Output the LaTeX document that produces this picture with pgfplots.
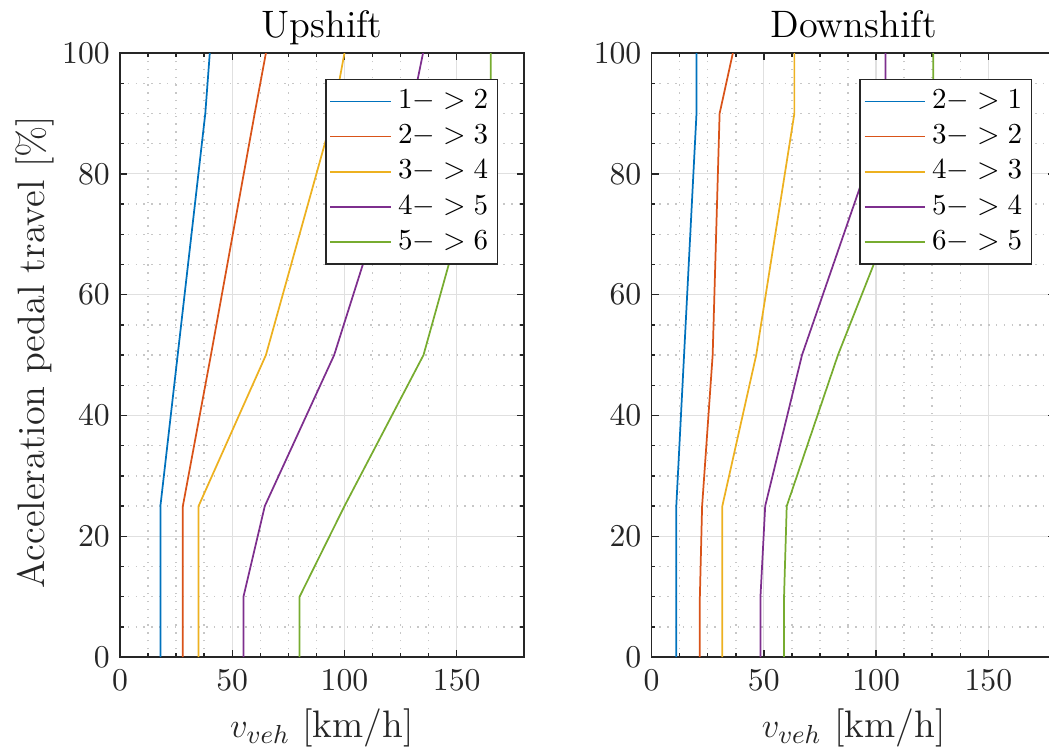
\documentclass[border=0pt]{standalone}
\usepackage{pgfplots}
\pgfplotsset{compat=1.18}
\definecolor{c1}{HTML}{0072BD}
\definecolor{c2}{HTML}{D95319}
\definecolor{c3}{HTML}{EDB120}
\definecolor{c4}{HTML}{7E2F8E}
\definecolor{c5}{HTML}{77AC30}
\definecolor{axgray}{gray}{0.15}
\pgfplotsset{
  gearaxis/.style={
    scale only axis, width=139.4pt, height=208.4pt,
    xmin=0, xmax=180, ymin=0, ymax=100,
    xtick={0,50,100,150}, ytick={0,20,40,60,80,100},
    minor x tick num=3, minor y tick num=3,
    grid=both,
    major grid style={line width=0.45pt, color=black!12},
    minor grid style={line width=0.5pt, color=black!22, dash pattern=on 0.5pt off 2.2pt},
    axis line style={color=axgray, line width=0.5pt},
    tick style={color=axgray, line width=0.5pt},
    major tick length=2.5pt, minor tick length=1.3pt,
    tick align=inside,
    ticklabel style={font=\fontsize{11.3}{13}\selectfont, text=axgray},
    xticklabel style={yshift=-1pt},
    label style={font=\fontsize{13.2}{16}\selectfont, text=axgray},
    xlabel style={at={(axis description cs:0.5,0)}, anchor=center, yshift=-24.5pt},
    ylabel style={at={(axis description cs:-0.21,0.505)}, anchor=center},
    every axis title shift=0pt,
    title style={font=\fontsize{13.2}{16}\selectfont, text=black,
      at={(axis description cs:0.5,1)}, anchor=base, yshift=5.5pt},
    xlabel={$v_{veh}$ [km/h]},
    legend style={anchor=north east, font=\fontsize{10}{12}\selectfont,
      draw=axgray, line width=0.5pt, fill=white, inner xsep=1.2pt, inner ysep=1.5pt,
      row sep=0.2pt, cells={anchor=west}},
    legend image code/.code={\draw[#1, line width=0.6pt] (0pt,0pt) -- (21pt,0pt);},
    every axis plot/.append style={line width=0.6pt, mark=none},
  }
}
\begin{document}
\begin{tikzpicture}
\begin{axis}[gearaxis, at={(0pt,0pt)}, anchor=south west,
  title={Upshift},
  ylabel={Acceleration pedal travel [\%]},
  legend style={at={(rel axis cs:0.936,0.957)}}]
\addplot[c1] coordinates {(18,0) (18,25) (38,90) (40,100)};
\addlegendentry{$1->2$}
\addplot[c2] coordinates {(28,0) (28,25) (40.5,50) (60,90) (65,100)};
\addlegendentry{$2->3$}
\addplot[c3] coordinates {(35,0) (35,25) (65,50) (95,90) (100,100)};
\addlegendentry{$3->4$}
\addplot[c4] coordinates {(55,0) (55,10) (64.5,25) (95.4,50) (129.5,90) (135,100)};
\addlegendentry{$4->5$}
\addplot[c5] coordinates {(80,0) (80,10) (100,25) (135.2,50) (165.2,90) (165.2,100)};
\addlegendentry{$5->6$}
\end{axis}
\begin{axis}[gearaxis, at={(183.4pt,0pt)}, anchor=south west,
  title={Downshift},
  legend style={at={(rel axis cs:0.942,0.957)}}]
\addplot[c1] coordinates {(11,0) (11,25) (20,90) (20,100)};
\addlegendentry{$2->1$}
\addplot[c2] coordinates {(21.5,0) (21.5,10) (22.5,25) (27.2,50) (30.3,90) (36.2,100)};
\addlegendentry{$3->2$}
\addplot[c3] coordinates {(31.5,0) (31.5,25) (46.6,50) (63.6,90) (63.6,100)};
\addlegendentry{$4->3$}
\addplot[c4] coordinates {(48.5,0) (48.5,10) (50.6,25) (67,50) (104.2,90) (104.2,100)};
\addlegendentry{$5->4$}
\addplot[c5] coordinates {(59,0) (59,10) (60.2,25) (83,50) (125.5,90) (125.5,100)};
\addlegendentry{$6->5$}
\end{axis}
\pgfresetboundingbox
\useasboundingbox (-41.4pt,-32.4pt) rectangle (320.5pt,226.7pt);
\end{tikzpicture}
\end{document}
